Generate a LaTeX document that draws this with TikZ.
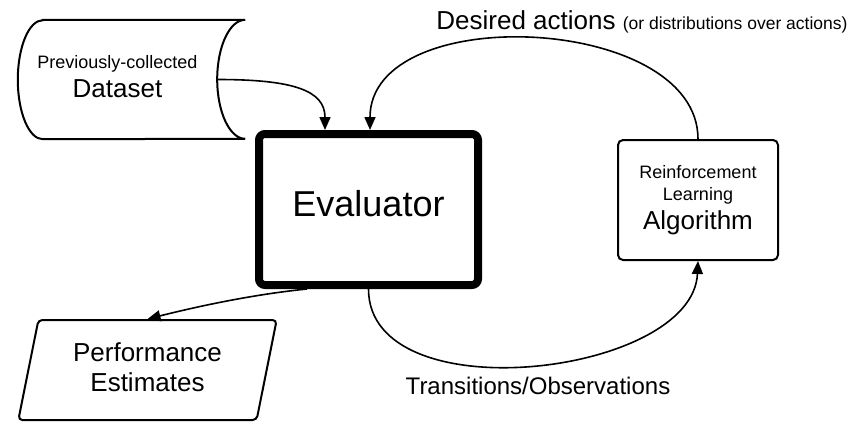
\documentclass[tikz,border=0pt]{standalone}
\usepackage{fontspec}
\setmainfont{Liberation Sans}
\usetikzlibrary{arrows.meta,shapes.geometric}

\begin{document}
\begin{tikzpicture}[x=1pt,y=-1pt,
    box/.style={draw, line width=2pt, rounded corners=5pt, align=center, inner sep=0pt},
    flow/.style={line width=1.6pt, -{Triangle[length=13pt,width=11pt]}},
    bigtext/.style={font=\fontsize{26}{30}\selectfont},
    midtext/.style={font=\fontsize{24}{28}\selectfont}]
        \useasboundingbox (0,0) rectangle (867,423);

        % we draw the boxes
        \node[align=center, inner sep=0pt, minimum width=199pt, minimum height=119pt, text depth=6.5pt,
            font=\fontsize{18}{29}\selectfont] (data) at (117.5,79.5)
            {Previously-collected\\ \fontsize{26}{29}\selectfont Dataset};
        \draw[line width=2pt] ([xshift=25pt]data.north west) -- ([xshift=28pt]data.north east)
            arc[start angle=90, end angle=270, x radius=28pt, y radius=59.5pt]
            -- ([xshift=25pt]data.south west)
            arc[start angle=270, end angle=90, x radius=25pt, y radius=59.5pt] -- cycle;

        \node[box, line width=8pt, rounded corners=6pt, minimum width=219pt, minimum height=151pt, text depth=12pt,
            font=\fontsize{36}{40}\selectfont] (eval) at (368.5,209.5) {Evaluator};

        \node[box, minimum width=160pt, minimum height=120pt, font=\fontsize{18}{22}\selectfont] (rl) at (698,200)
            {Reinforcement\\Learning\\[6pt] \fontsize{26}{28}\selectfont Algorithm};

        \node[box, bigtext, trapezium, trapezium left angle=76, trapezium right angle=104, trapezium stretches=true,
            rounded corners=4pt, minimum width=259pt, minimum height=100pt, text depth=6pt] (perf) at (147.5,370)
            {Performance\\Estimates};

        % we draw the connectors
        \draw[flow] (data.east) .. controls +(75,0) and +(0,-40) .. ([xshift=-43.5pt]eval.north);
        \draw[flow] (rl.north) .. controls +(0,-125) and +(0,-130) .. ([xshift=1.5pt]eval.north);
        \draw[flow] (eval.south) .. controls +(0,125) and +(-5,115) .. (rl.south);
        \draw[flow] ([xshift=-61.5pt]eval.south) .. controls +(-60,6) and +(40,-10) .. (perf.north);

        % we add the labels
        \node[bigtext, anchor=base] (desired) at (642,29)
            {Desired actions \fontsize{17.5}{20}\selectfont(or distributions over actions)};
        \node[midtext, anchor=base] (trans) at (538,394) {Transitions/Observations};
    \end{tikzpicture}
\end{document}
